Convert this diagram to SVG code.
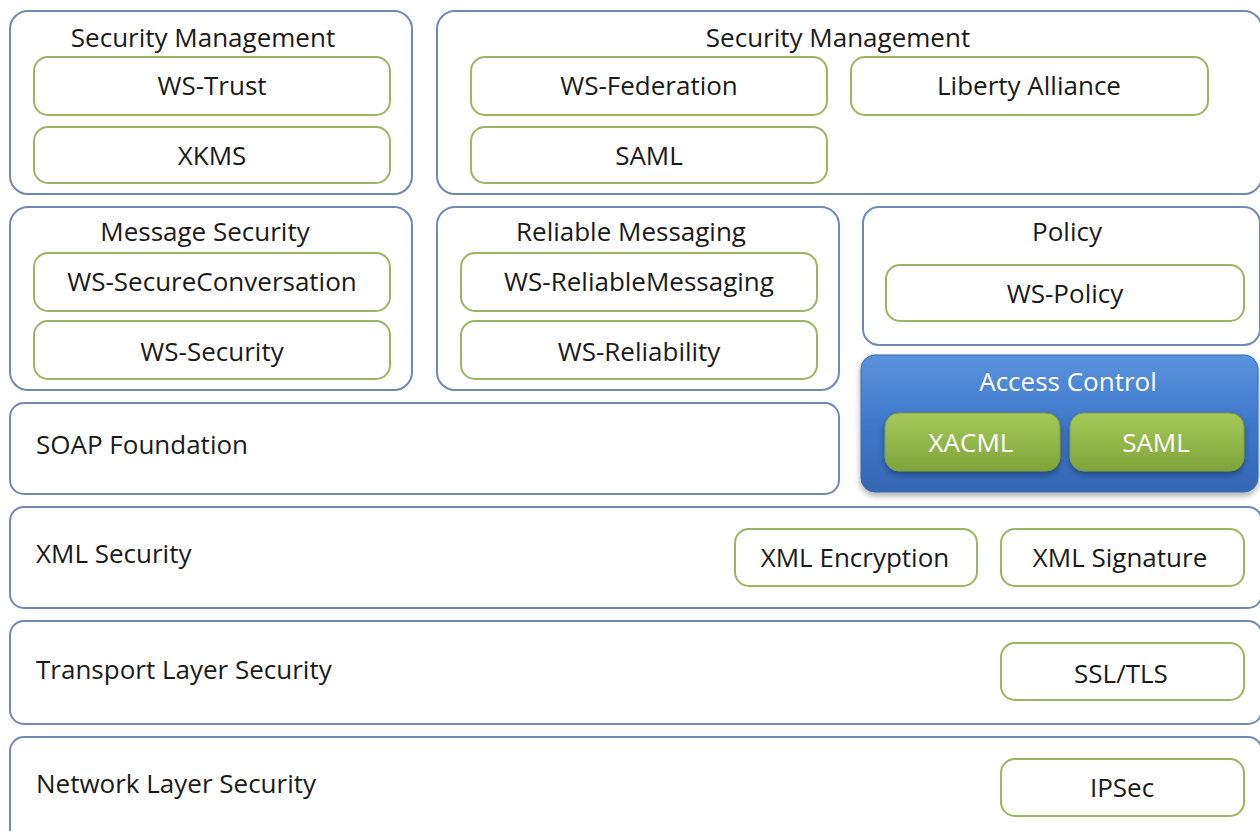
<svg xmlns="http://www.w3.org/2000/svg" width="1260" height="831" viewBox="0 0 1260 831">
<defs>
<style>
.outer{fill:#ffffff;stroke:#7189b0;stroke-width:2}
.inner{fill:#ffffff;stroke:#9bb560;stroke-width:2}
text{font-family:"Open Sans","Liberation Sans",sans-serif;font-size:26px;fill:#1a1a1a;dominant-baseline:central}
.c{text-anchor:middle}
.w{fill:#ffffff}
</style>
<linearGradient id="blue" x1="0" y1="0" x2="0" y2="1">
<stop offset="0" stop-color="#5b93dc"/>
<stop offset="0.5" stop-color="#3f78cc"/>
<stop offset="1" stop-color="#3567b4"/>
</linearGradient>
<linearGradient id="green" x1="0" y1="0" x2="0" y2="1">
<stop offset="0" stop-color="#a6c95a"/>
<stop offset="1" stop-color="#7ea43a"/>
</linearGradient>
<filter id="sh" x="-10%" y="-10%" width="120%" height="130%">
<feDropShadow dx="0" dy="3" stdDeviation="3" flood-color="#000" flood-opacity="0.35"/>
</filter>
</defs>
<rect width="1260" height="831" fill="#ffffff"/>

<g id="secmgmt1">
<rect class="outer" x="10" y="11" width="402" height="183" rx="18"/>
<text class="c" x="203" y="37">Security Management</text>
<g id="wstrust"><rect class="inner" x="34" y="57" width="356" height="58" rx="14"/><text class="c" x="212" y="85">WS-Trust</text></g>
<g id="xkms"><rect class="inner" x="34" y="127" width="356" height="56" rx="14"/><text class="c" x="212" y="155">XKMS</text></g>
</g>

<g id="secmgmt2">
<rect class="outer" x="437" y="11" width="825" height="183" rx="18"/>
<text class="c" x="838" y="37">Security Management</text>
<g id="wsfed"><rect class="inner" x="471" y="57" width="356" height="58" rx="14"/><text class="c" x="649" y="85">WS-Federation</text></g>
<g id="liberty"><rect class="inner" x="851" y="57" width="357" height="58" rx="14"/><text class="c" x="1029" y="85">Liberty Alliance</text></g>
<g id="saml1"><rect class="inner" x="471" y="127" width="356" height="56" rx="14"/><text class="c" x="649" y="155">SAML</text></g>
</g>

<g id="msgsec">
<rect class="outer" x="10" y="207" width="402" height="183" rx="18"/>
<text class="c" x="205" y="231">Message Security</text>
<g id="wssc"><rect class="inner" x="34" y="253" width="356" height="58" rx="14"/><text class="c" x="212" y="281">WS-SecureConversation</text></g>
<g id="wssec"><rect class="inner" x="34" y="321" width="356" height="58" rx="14"/><text class="c" x="212" y="351">WS-Security</text></g>
</g>

<g id="relmsg">
<rect class="outer" x="437" y="207" width="402" height="183" rx="18"/>
<text class="c" x="631" y="231">Reliable Messaging</text>
<g id="wsrm"><rect class="inner" x="461" y="253" width="356" height="58" rx="14"/><text class="c" x="639" y="281">WS-ReliableMessaging</text></g>
<g id="wsrel"><rect class="inner" x="461" y="321" width="356" height="58" rx="14"/><text class="c" x="639" y="351">WS-Reliability</text></g>
</g>

<g id="policy">
<rect class="outer" x="863" y="207" width="397" height="138" rx="16"/>
<text class="c" x="1067" y="231">Policy</text>
<g id="wspolicy"><rect class="inner" x="886" y="265" width="358" height="56" rx="14"/><text class="c" x="1065" y="293">WS-Policy</text></g>
</g>

<g id="access">
<rect x="861" y="355" width="397" height="137" rx="14" fill="url(#blue)" stroke="#3a6bb3" stroke-width="1" filter="url(#sh)"/>
<text class="c w" x="1068" y="381">Access Control</text>
<g id="xacml"><rect x="885" y="413" width="175" height="58" rx="14" fill="url(#green)" stroke="#7a9c3c" stroke-width="1" filter="url(#sh)"/><text class="c w" x="971" y="442">XACML</text></g>
<g id="saml2"><rect x="1070" y="413" width="174" height="58" rx="14" fill="url(#green)" stroke="#7a9c3c" stroke-width="1" filter="url(#sh)"/><text class="c w" x="1156" y="442">SAML</text></g>
</g>

<g id="soap">
<rect class="outer" x="10" y="403" width="829" height="91" rx="14"/>
<text x="36" y="444">SOAP Foundation</text>
</g>

<g id="xmlsec">
<rect class="outer" x="10" y="507" width="1252" height="101" rx="14"/>
<text x="36" y="553">XML Security</text>
<g id="xmlenc"><rect class="inner" x="735" y="529" width="242" height="57" rx="14"/><text class="c" x="855" y="557">XML Encryption</text></g>
<g id="xmlsig"><rect class="inner" x="1001" y="529" width="243" height="57" rx="14"/><text class="c" x="1120" y="557">XML Signature</text></g>
</g>

<g id="transport">
<rect class="outer" x="10" y="621" width="1252" height="103" rx="14"/>
<text x="36" y="669">Transport Layer Security</text>
<g id="ssl"><rect class="inner" x="1001" y="643" width="243" height="57" rx="14"/><text class="c" x="1121" y="673">SSL/TLS</text></g>
</g>

<g id="network">
<rect class="outer" x="10" y="737" width="1252" height="110" rx="14"/>
<text x="36" y="783">Network Layer Security</text>
<g id="ipsec"><rect class="inner" x="1001" y="759" width="243" height="57" rx="14"/><text class="c" x="1122" y="787">IPSec</text></g>
</g>

<g id="connectors"></g>
</svg>
